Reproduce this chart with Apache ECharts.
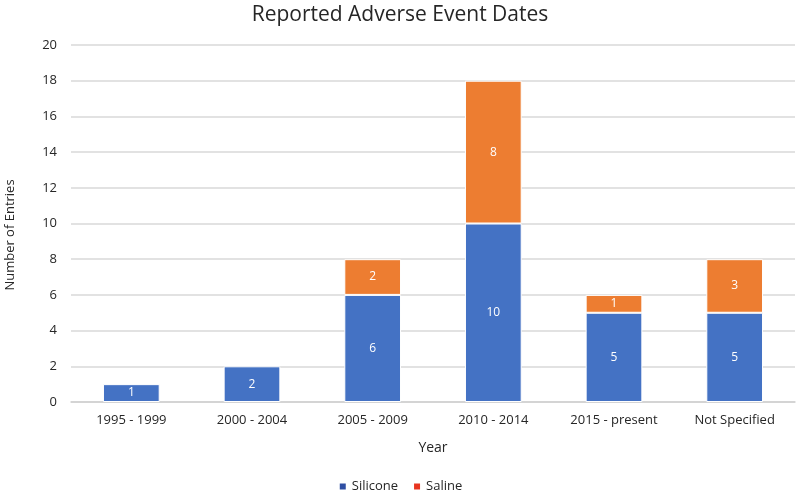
<!DOCTYPE html>
<html><head><meta charset="utf-8">
<script src="https://cdn.jsdelivr.net/npm/echarts@6/dist/echarts.min.js"></script>
<style>html,body{margin:0;padding:0;background:#fff}#c{width:800px;height:497px}</style>
</head><body><div id="c"></div>
<script>
const categories = ['1995 - 1999','2000 - 2004','2005 - 2009','2010 - 2014','2015 - present','Not Specified'];
const silicone = [1, 2, 6, 10, 5, 5];
const saline = [null, null, 2, 8, 1, 3];
const yTicks = {min: 0, max: 20, interval: 2};

const chart = echarts.init(document.getElementById('c'), null, {renderer: 'canvas'});
const font = '"Open Sans", "Liberation Sans", sans-serif';
const txt = '#262626';
chart.setOption({
  animation: false,
  title: {text: 'Reported Adverse Event Dates', left: 'center', top: 0,
    textStyle: {fontFamily: font, fontSize: 21, fontWeight: 'normal', color: txt}},
  grid: {left: 71, right: 5, top: 45, bottom: 95},
  legend: {bottom: -1, left: 'center', itemWidth: 8, itemHeight: 8, itemGap: 14,
    icon: 'rect',
    textStyle: {fontFamily: font, fontSize: 13, color: txt},
    data: [{name: 'Silicone', itemStyle: {color: '#2F4FA3'}}, {name: 'Saline', itemStyle: {color: '#E8351F'}}]},
  graphic: [{type: 'text', x: 4, y: 235, rotation: Math.PI / 2,
    style: {text: 'Number of Entries', fontFamily: font, fontSize: 13, fill: txt,
      align: 'center', verticalAlign: 'top'}}],
  xAxis: {type: 'category', data: categories, name: 'Year', nameLocation: 'middle', nameGap: 39,
    nameTextStyle: {fontFamily: font, fontSize: 14, color: txt},
    axisLine: {lineStyle: {color: '#d0d0d0', width: 1.5}}, axisTick: {show: false},
    axisLabel: {fontFamily: font, fontSize: 13, color: txt, margin: 12}},
  yAxis: {type: 'value', min: yTicks.min, max: yTicks.max, interval: yTicks.interval,
    axisLine: {show: false}, axisTick: {show: false},
    axisLabel: {fontFamily: font, fontSize: 13, color: txt, margin: 14},
    splitLine: {lineStyle: {color: '#d9d9d9', width: 1.5}}},
  series: [
    {name: 'Silicone', type: 'bar', stack: 'a', data: silicone, barWidth: '47%',
      itemStyle: {color: '#4472C4', borderColor: '#fff', borderWidth: 1},
      label: {show: true, position: 'inside', color: '#fff', fontFamily: font, fontSize: 12}},
    {name: 'Saline', type: 'bar', stack: 'a', data: saline, barWidth: '47%',
      itemStyle: {color: '#ED7D31', borderColor: '#fff', borderWidth: 1},
      label: {show: true, position: 'inside', color: '#fff', fontFamily: font, fontSize: 12}}
  ]
});
</script></body></html>
